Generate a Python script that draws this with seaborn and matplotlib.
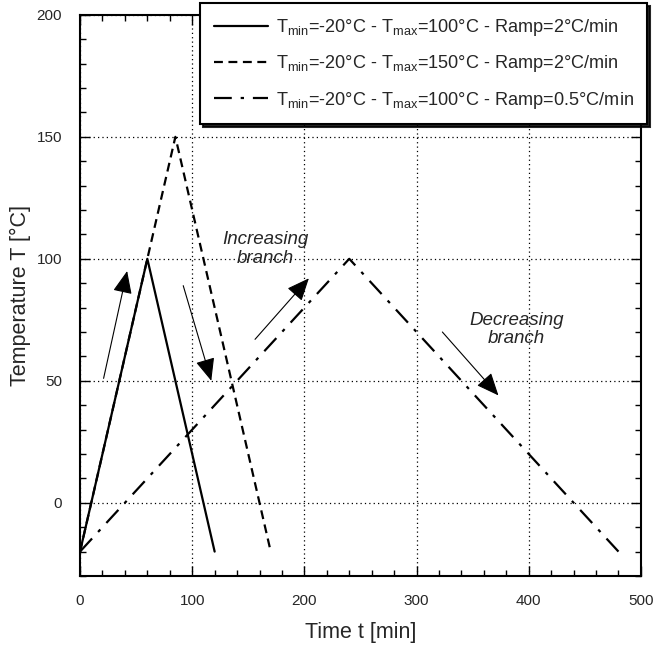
import matplotlib
matplotlib.use("Agg")
import matplotlib.pyplot as plt
from matplotlib.ticker import MultipleLocator
import seaborn as sns
import pandas as pd

# Temperature cycles: (time [min], temperature [°C]) vertices
t_ramp2_100 = [0, 60, 120]
T_ramp2_100 = [-20, 100, -20]
t_ramp2_150 = [0, 85, 170]
T_ramp2_150 = [-20, 150, -20]
t_ramp05_100 = [0, 240, 480]
T_ramp05_100 = [-20, 100, -20]

labels = [
    r"T$_{\mathrm{min}}$=-20°C - T$_{\mathrm{max}}$=100°C - Ramp=2°C/min",
    r"T$_{\mathrm{min}}$=-20°C - T$_{\mathrm{max}}$=150°C - Ramp=2°C/min",
    r"T$_{\mathrm{min}}$=-20°C - T$_{\mathrm{max}}$=100°C - Ramp=0.5°C/min",
]

# Branch arrows: (start, end) in data coordinates
arrows = [
    ((21, 51), (42, 95)),
    ((92, 89), (117, 50)),
    ((156, 67), (204, 92)),
    ((323, 70), (373, 44)),
]

sns.set_style("ticks")
plt.rcParams["font.family"] = ["Liberation Sans", "DejaVu Sans"]
plt.rcParams["mathtext.fontset"] = "custom"
plt.rcParams["mathtext.rm"] = "Liberation Sans"
plt.rcParams["mathtext.it"] = "Liberation Sans:italic"

frames = []
for t, T, lab in zip([t_ramp2_100, t_ramp2_150, t_ramp05_100],
                     [T_ramp2_100, T_ramp2_150, T_ramp05_100], labels):
    frames.append(pd.DataFrame({"t": t, "T": T, "cycle": lab}))
df = pd.concat(frames, ignore_index=True)

fig = plt.figure(figsize=(6.56, 6.45), dpi=100)
ax = fig.add_axes([0.122, 0.107, 0.855, 0.870])

styles = ["-", (0, (4, 2.5)), (0, (8, 4, 1.5, 4))]
for lab, ls in zip(labels, styles):
    sub = df[df["cycle"] == lab]
    sns.lineplot(data=sub, x="t", y="T", ax=ax, color="black", lw=1.6,
                 linestyle=ls, label=lab, sort=False, estimator=None)

for (x0, y0), (x1, y1) in arrows:
    ax.annotate("", xy=(x1, y1), xytext=(x0, y0),
                arrowprops=dict(arrowstyle="-|>,head_length=0.7,head_width=0.3",
                                mutation_scale=20, lw=0.8, color="black",
                                shrinkA=0, shrinkB=0))

ax.text(165, 104, "Increasing\nbranch", ha="center", va="center",
        style="italic", fontsize=13.5, linespacing=1.1)
ax.text(389, 71, "Decreasing\nbranch", ha="center", va="center",
        style="italic", fontsize=13.5, linespacing=1.1)

ax.set_xlim(0, 500)
ax.set_ylim(-30, 200)
ax.set_xticks([0, 100, 200, 300, 400, 500])
ax.set_yticks([0, 50, 100, 150, 200])
ax.xaxis.set_minor_locator(MultipleLocator(20))
ax.yaxis.set_minor_locator(MultipleLocator(10))
ax.tick_params(which="both", direction="in", top=True, right=True,
               color="black", width=1.0)
ax.tick_params(which="major", length=7, labelsize=11, pad=13)
ax.tick_params(which="minor", length=4)
ax.grid(True, which="major", linestyle=(0, (1, 2.5)), color="black", lw=0.9)
for s in ax.spines.values():
    s.set_linewidth(1.5)
    s.set_color("black")

ax.set_xlabel("Time t [min]", fontsize=15.5, labelpad=10)
ax.set_ylabel("Temperature T [°C]", fontsize=15.5, labelpad=4)

leg = ax.legend(loc="upper left", bbox_to_anchor=(0.305, 0.995),
                bbox_transform=fig.transFigure, borderaxespad=0,
                fontsize=13.1, handlelength=3.0, handletextpad=0.4,
                frameon=True, fancybox=False, framealpha=1,
                edgecolor="black", shadow={"color": "black", "alpha": 0.85},
                borderpad=0.75, labelspacing=0.85)
leg.get_frame().set_linewidth(1.5)

fig.savefig("out.png", dpi=100)
